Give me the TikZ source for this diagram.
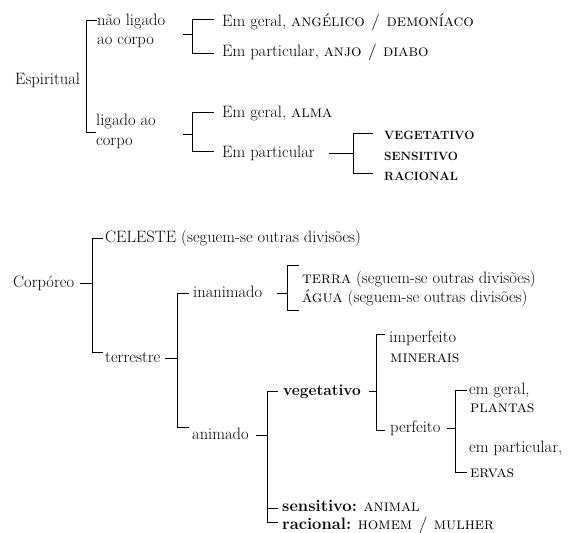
\documentclass[tikz,border=0pt]{standalone}
\usetikzlibrary{calc}
\newcommand{\smc}[1]{\textsc{#1}}
\newcommand{\bsc}[1]{\textbf{\fontsize{12}{14}\selectfont #1}}
\begin{document}
\begin{tikzpicture}[x=1pt,y=-1pt,
  lbl/.style={anchor=west,inner sep=0pt,text height=12pt,text depth=4pt,font=\fontsize{16.5}{19}\selectfont},
  ln/.style={line width=1pt,line cap=rect}]
\useasboundingbox (0,0) rectangle (574,533);
% ---------------- Espiritual ----------------
\node[lbl] (esp) at (15,80) {Espiritual};
\node[lbl] (nl1) at (97,21) {não ligado};
\node[lbl] (nl2) at (97,40) {ao corpo};
\node[lbl] (lc1) at (96,121) {ligado ao};
\node[lbl] (lc2) at (96,141) {corpo};
\node[lbl] (g1) at (222,22) {Em geral, \smc{angélico / demoníaco}};
\node[lbl] (p1) at (222,52) {Em particular, \smc{anjo / diabo}};
\node[lbl] (g2) at (222,113) {Em geral, \smc{alma}};
\node[lbl] (p2) at (222,153) {Em particular};
\node[lbl] (v1) at (384,135) {\bsc{VEGETATIVO}};
\node[lbl] (s1) at (384,156) {\bsc{SENSITIVO}};
\node[lbl] (r1) at (384,176) {\bsc{RACIONAL}};
% bracket Espiritual
\coordinate (A1) at (86,20); \coordinate (A2) at (86,132);
\draw[ln] ($(A1 -| nl1.west)+(-1,0)$) -- (A1) -- (A2) -- ($(A2 -| lc1.west)+(-1,0)$);
% bracket nao ligado
\coordinate (B1) at (192,19); \coordinate (B2) at (192,53);
\draw[ln] (183,34) -- (192,34);
\draw[ln] ($(B1 -| g1.west)+(-9,0)$) -- (B1) -- (B2) -- ($(B2 -| p1.west)+(-9,0)$);
% bracket ligado
\coordinate (C1) at (192,112); \coordinate (C2) at (192,151);
\draw[ln] (183,134) -- (192,134);
\draw[ln] ($(C1 -| g2.west)+(-9,0)$) -- (C1) -- (C2) -- ($(C2 -| p2.west)+(-9,0)$);
% bracket Em particular
\coordinate (D1) at (353,133); \coordinate (D2) at (353,173);
\draw[ln] (329,0 |- p2.west) -- (353,0 |- p2.west);
\draw[ln] ($(D1 -| v1.west)+(-12,0)$) -- (D1) -- (D2) -- ($(D2 -| r1.west)+(-12,0)$);
% ---------------- Corporeo ----------------
\node[lbl] (corp) at (13,283) {Corpóreo};
\node[lbl] (cel) at (105,238) {CELESTE (seguem-se outras divisões)};
\node[lbl] (ter) at (105,358) {terrestre};
\node[lbl] (inan) at (193,293) {inanimado};
\node[lbl] (anim) at (192,435) {animado};
\node[lbl] (terra) at (302,279) {\smc{terra} (seguem-se outras divisões)};
\node[lbl] (agua) at (302,298) {\smc{água} (seguem-se outras divisões)};
\node[lbl] (veg) at (283,391) {\textbf{\fontsize{15.5}{18}\selectfont vegetativo}};
\node[lbl] (sens) at (282,507) {\textbf{sensitivo:} \smc{animal}};
\node[lbl] (rac) at (282,525) {\textbf{racional:} \smc{homem / mulher}};
\node[lbl] (imp) at (389,338) {imperfeito};
\node[lbl] (min) at (390,358) {\smc{minerais}};
\node[lbl] (perf) at (390,428) {perfeito};
\node[lbl] (emg) at (469,390) {em geral,};
\node[lbl] (pla) at (470,408) {\smc{plantas}};
\node[lbl] (emp) at (469,448) {em particular,};
\node[lbl] (erv) at (470,473) {\smc{ervas}};
% bracket Corporeo
\coordinate (E1) at (92,238); \coordinate (E2) at (92,352);
\draw[ln] (80,0 |- corp.west) -- (92,0 |- corp.west);
\draw[ln] ($(E1 -| cel.west)+(-3,0)$) -- (E1) -- (E2) -- ($(E2 -| ter.west)+(-3,0)$);
% bracket terrestre
\coordinate (F1) at (177,293); \coordinate (F2) at (177,427);
\draw[ln] (165,0 |- ter.west) -- (177,0 |- ter.west);
\draw[ln] ($(F1 -| inan.west)+(-5,0)$) -- (F1) -- (F2) -- ($(F2 -| anim.west)+(-4,0)$);
% bracket inanimado
\coordinate (G1) at (287,265); \coordinate (G2) at (287,310);
\draw[ln] (277,0 |- inan.west) -- (287,0 |- inan.west);
\draw[ln] ($(G1 -| terra.west)+(-4,0)$) -- (G1) -- (G2) -- ($(G2 -| agua.west)+(-4,0)$);
% bracket animado
\coordinate (H1) at (267,391); \coordinate (H2) at (267,522); \coordinate (H3) at (267,508);
\draw[ln] (256,0 |- anim.west) -- (267,0 |- anim.west);
\draw[ln] ($(H1 -| veg.west)+(-6,0)$) -- (H1) -- (H2) -- ($(H2 -| rac.west)+(-5,0)$);
\draw[ln] (H3) -- ($(H3 -| sens.west)+(-5,0)$);
% bracket vegetativo
\coordinate (I1) at (376,334); \coordinate (I2) at (376,430);
\draw[ln] (369,0 |- veg.west) -- (376,0 |- veg.west);
\draw[ln] ($(I1 -| imp.west)+(-5,0)$) -- (I1) -- (I2) -- ($(I2 -| perf.west)+(-6,0)$);
% bracket perfeito
\coordinate (J1) at (455,390); \coordinate (J2) at (455,472);
\draw[ln] (447,0 |- perf.west) -- (455,0 |- perf.west);
\draw[ln] ($(J1 -| emg.west)+(-3,0)$) -- (J1) -- (J2) -- ($(J2 -| erv.west)+(-4,0)$);
\end{tikzpicture}
\end{document}
